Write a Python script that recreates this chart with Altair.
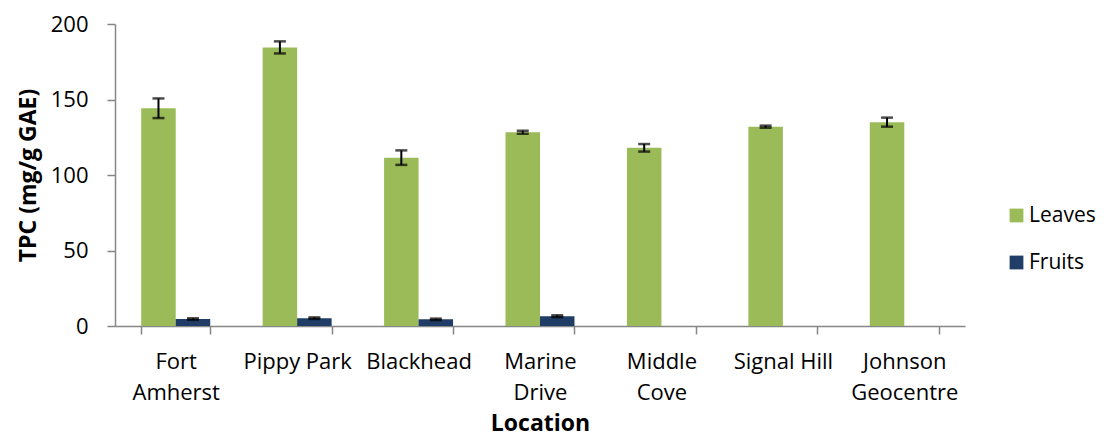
import altair as alt
import pandas as pd

locations = ["Fort Amherst", "Pippy Park", "Blackhead", "Marine Drive",
             "Middle Cove", "Signal Hill", "Johnson Geocentre"]
leaves = [144.2, 184.5, 111.5, 128.3, 118.0, 132.0, 135.0]
leaves_err = [6.5, 4.0, 4.8, 1.0, 2.5, 0.7, 3.0]
fruits = [4.6, 5.2, 4.4, 6.5]
fruits_err = [0.5, 0.5, 0.5, 0.6]
series = ["Leaves", "Fruits"]
colors = ["#9BBB59", "#1F3D66"]

rows = []
for loc, v, e in zip(locations, leaves, leaves_err):
    rows.append({"Location": loc, "Type": "Leaves", "Value": v, "lo": v - e, "hi": v + e})
for loc, v, e in zip(locations, fruits, fruits_err):
    rows.append({"Location": loc, "Type": "Fruits", "Value": v, "lo": v - e, "hi": v + e})
df = pd.DataFrame(rows)

FONT = "Open Sans"

x_enc = alt.X("Location:N", sort=locations,
              scale=alt.Scale(paddingInner=0.432, paddingOuter=0.216),
              axis=alt.Axis(title="Location", titleFont=FONT, titleFontSize=23,
                            titleFontWeight="bold", titleColor="#000", titlePadding=9,
                            labelFont=FONT, labelFontSize=22, labelColor="#000",
                            labelAngle=0, labelLineHeight=31, labelPadding=17,
                            labelExpr="indexof(['Pippy Park','Signal Hill'], datum.label) >= 0 ? datum.label : split(datum.label, ' ')",
                            tickBand="extent", tickSize=8, tickColor="#868686",
                            domainColor="#868686", domainWidth=1.5, tickWidth=1.5,
                            grid=False))
xoff = alt.XOffset("Type:N", sort=series, scale=alt.Scale(domain=series, paddingInner=0, paddingOuter=0))
y_scale = alt.Scale(domain=[0, 200], nice=False)

bars = alt.Chart(df).mark_bar(size=34.5).encode(
    x=x_enc,
    xOffset=xoff,
    y=alt.Y("Value:Q", scale=y_scale,
            axis=alt.Axis(title="TPC (mg/g GAE)", titleFont=FONT, titleFontSize=23,
                          titleFontWeight="bold", titleColor="#000", titlePadding=10,
                          values=[0, 50, 100, 150, 200],
                          labelFont=FONT, labelFontSize=22, labelColor="#000",
                          labelPadding=19, tickSize=8, tickColor="#868686",
                          domainColor="#868686", domainWidth=1.5, tickWidth=1.5,
                          grid=False)),
    color=alt.Color("Type:N", sort=series,
                    scale=alt.Scale(domain=series, range=colors),
                    legend=alt.Legend(title=None, orient="none", legendX=891, legendY=181,
                                      symbolType="square", symbolSize=190,
                                      symbolStrokeWidth=0, labelFont=FONT,
                                      labelFontSize=21, labelColor="#000",
                                      rowPadding=25, labelOffset=2)),
)

err = alt.Chart(df).mark_rule(color="black", strokeWidth=2).encode(
    x=alt.X("Location:N", sort=locations),
    xOffset=xoff,
    y=alt.Y("lo:Q", scale=y_scale),
    y2="hi:Q",
)
cap_lo = alt.Chart(df).mark_tick(color="black", thickness=2.5, size=12).encode(
    x=alt.X("Location:N", sort=locations),
    xOffset=xoff,
    y=alt.Y("lo:Q", scale=y_scale),
)
cap_hi = alt.Chart(df).mark_tick(color="black", thickness=2.5, size=12).encode(
    x=alt.X("Location:N", sort=locations),
    xOffset=xoff,
    y=alt.Y("hi:Q", scale=y_scale),
)

chart = alt.layer(bars, err, cap_lo, cap_hi).properties(
    width=850, height=302,
    background="white",
    autosize=alt.AutoSizeParams(type="none"),
    padding={"left": 107, "top": 16, "right": 137, "bottom": 114},
).configure_view(strokeWidth=0, stroke="transparent")

chart.save("out.html", embed_options={"renderer": "svg", "actions": False})
